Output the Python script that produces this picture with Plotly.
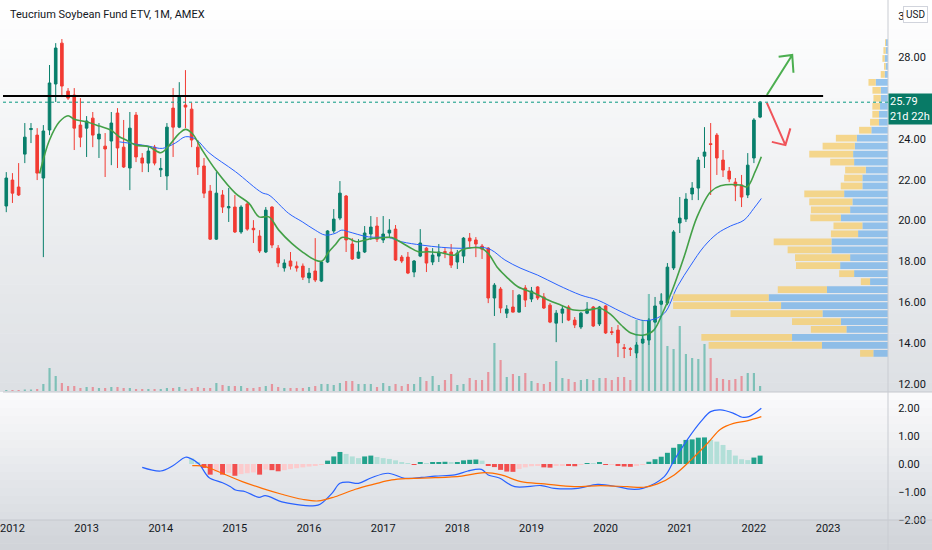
import plotly.graph_objects as go

# Monthly candles, index 0 = Dec 2011 ... 122 = Feb 2022
opens = [20.71, 21.98, 21.64, 23.25, 24.45, 24.18, 22.08, 24.43, 26.68, 28.68,
         26.33, 26.14, 24.67, 24.52, 25.01, 23.99, 23.64, 23.89, 25.26, 23.59,
         22.57, 25.16, 23.06, 22.81, 23.59, 22.48, 22.18, 25.50, 24.57, 25.65,
         25.45, 23.59, 22.67, 21.44, 19.09, 21.25, 20.62, 20.66, 19.44, 20.81,
         19.62, 19.24, 18.46, 20.66, 18.65, 17.68, 18.02, 17.77, 17.77, 17.19,
         17.53, 17.04, 17.97, 19.49, 20.12, 21.20, 18.85, 18.16, 18.46, 19.34,
         19.73, 19.05, 19.39, 19.58, 18.21, 18.21, 17.48, 18.26, 18.65, 17.97,
         18.26, 18.48, 18.46, 17.97, 18.26, 19.14, 19.05, 18.75, 18.65, 16.21,
         16.65, 15.47, 15.77, 15.52, 16.70, 16.16, 16.75, 16.26, 15.86, 14.98,
         15.47, 15.77, 15.13, 14.79, 15.47, 15.77, 14.94, 15.82, 14.56, 14.64,
         13.78, 13.73, 13.52, 14.01, 14.15, 15.03, 15.91, 15.96, 17.68, 19.88,
         20.07, 21.30, 21.59, 23.15, 23.76, 24.18, 22.96, 22.42, 21.88, 21.74,
         21.25, 23.06, 25.06]
highs = [22.37, 22.32, 22.81, 24.77, 24.77, 24.52, 24.67, 27.61, 28.68, 28.88,
         26.48, 26.48, 25.99, 25.11, 25.31, 24.77, 24.28, 25.31, 25.50, 24.92,
         25.31, 25.31, 23.30, 23.59, 23.70, 23.06, 24.77, 26.48, 26.77, 27.36,
         25.76, 23.94, 23.06, 21.74, 22.37, 21.49, 21.59, 21.25, 20.75, 20.90,
         20.02, 19.53, 20.66, 20.70, 18.80, 18.10, 18.46, 18.00, 17.90, 17.68,
         19.14, 18.00, 19.53, 20.56, 21.93, 21.25, 19.14, 19.09, 19.73, 20.22,
         20.17, 20.22, 20.07, 19.78, 18.31, 18.46, 18.07, 19.58, 18.70, 18.65,
         18.85, 18.65, 18.85, 18.56, 19.19, 19.39, 19.19, 18.85, 18.70, 16.94,
         16.75, 15.86, 16.60, 16.40, 16.84, 16.75, 16.79, 16.45, 15.96, 15.62,
         15.86, 15.86, 15.28, 15.52, 16.01, 15.82, 15.82, 15.86, 14.79, 14.89,
         13.96, 13.81, 14.05, 14.40, 15.23, 16.26, 16.45, 17.92, 19.53, 21.15,
         21.34, 21.88, 23.11, 24.57, 24.77, 24.28, 23.45, 22.62, 22.08, 22.23,
         23.30, 25.01, 25.85]
lows = [20.41, 20.86, 21.20, 22.81, 23.79, 21.98, 18.21, 24.18, 25.80, 26.04,
        25.90, 23.45, 23.59, 23.11, 23.59, 23.06, 22.13, 22.71, 22.57, 22.57,
        21.49, 22.86, 22.37, 22.37, 22.70, 22.13, 21.49, 23.11, 24.52, 24.52,
        23.59, 22.23, 21.10, 19.05, 19.05, 20.37, 19.93, 19.39, 19.35, 19.50,
        18.90, 18.41, 18.41, 18.65, 17.72, 17.50, 17.60, 17.50, 17.09, 16.94,
        16.99, 16.99, 17.92, 19.39, 20.02, 18.46, 18.07, 18.12, 18.41, 19.05,
        18.95, 18.90, 19.19, 18.02, 17.92, 17.38, 17.23, 18.21, 17.48, 17.82,
        17.97, 18.16, 17.68, 17.63, 17.92, 18.65, 18.21, 18.12, 15.96, 15.33,
        15.47, 15.23, 15.50, 15.50, 15.77, 16.01, 16.11, 15.67, 14.98, 14.05,
        14.98, 15.08, 14.74, 14.69, 15.42, 14.79, 14.84, 14.45, 14.40, 13.32,
        13.27, 13.37, 13.27, 13.96, 13.91, 14.98, 15.86, 15.86, 17.58, 19.39,
        19.93, 21.00, 21.00, 22.57, 21.25, 22.23, 22.13, 21.88, 20.95, 20.66,
        21.10, 22.81, 25.01]
closes = [22.08, 21.34, 21.25, 24.08, 24.50, 22.32, 24.38, 26.73, 28.44, 26.58,
          25.99, 24.52, 24.08, 24.87, 24.18, 24.23, 23.50, 24.77, 23.55, 22.62,
          24.52, 23.11, 22.81, 23.40, 22.81, 22.55, 24.57, 24.57, 26.09, 25.55,
          23.94, 22.62, 21.34, 19.09, 21.34, 20.66, 20.68, 19.44, 20.66, 19.58,
          19.55, 18.51, 20.51, 18.80, 17.92, 17.92, 17.77, 17.68, 17.23, 17.43,
          17.09, 17.97, 19.49, 20.07, 21.34, 19.05, 18.12, 18.46, 19.39, 19.68,
          19.09, 19.34, 19.53, 18.07, 18.02, 17.43, 18.02, 18.90, 17.92, 18.31,
          18.46, 18.44, 17.82, 18.41, 19.14, 19.00, 18.85, 18.60, 16.21, 16.84,
          15.72, 15.67, 15.52, 16.35, 16.11, 16.55, 16.21, 15.72, 15.03, 15.47,
          15.67, 15.13, 14.89, 15.47, 15.67, 14.84, 15.77, 14.50, 14.52, 14.01,
          13.74, 13.70, 13.91, 14.20, 15.13, 15.82, 16.06, 17.72, 19.44, 20.12,
          21.05, 21.59, 22.96, 23.35, 23.72, 23.06, 22.47, 22.03, 21.69, 21.15,
          22.71, 24.92, 25.79]
volume_k = [10, 10, 10, 15, 15, 20, 70, 230, 150, 80,
            50, 50, 30, 40, 40, 30, 30, 40, 40, 30,
            30, 20, 20, 20, 20, 20, 30, 30, 40, 20,
            30, 40, 30, 30, 80, 60, 50, 50, 50, 30,
            30, 40, 50, 70, 40, 30, 30, 30, 30, 40,
            50, 70, 70, 60, 80, 100, 100, 70, 70, 70,
            40, 80, 50, 70, 50, 70, 70, 140, 100, 150,
            60, 110, 170, 60, 70, 130, 110, 110, 190, 480,
            310, 140, 170, 150, 180, 100, 80, 70, 90, 300,
            130, 120, 90, 110, 120, 110, 130, 130, 110, 140,
            140, 110, 710, 710, 970, 710, 970, 450, 420, 650,
            370, 330, 320, 470, 330, 130, 120, 110, 120, 150,
            180, 180, 50]
year_ticks = [1, 13, 25, 37, 49, 61, 73, 85, 97, 109, 121, 133]
year_labels = ["2012", "2013", "2014", "2015", "2016", "2017",
               "2018", "2019", "2020", "2021", "2022", "2023"]

# moving averages (month index, price)
ema_fast_x = [5.4, 7.0, 8.6, 10.0, 11.0, 12.9, 15.1, 16.9, 18.3, 19.4,
              21.0, 23.1, 25.0, 26.4, 28.0, 29.0, 30.1, 31.7, 33.9, 37.1,
              39.3, 40.9, 42.5, 44.1, 46.2, 47.9, 50.0, 51.1, 52.2, 53.2,
              54.3, 55.4, 56.7, 58.1, 59.2, 61.3, 62.4, 63.5, 65.1, 66.7,
              68.3, 70.4, 72.6, 73.7, 75.3, 76.9, 78.0, 79.6, 81.2, 82.8,
              85.5, 87.7, 89.8, 91.9, 94.1, 96.2, 97.9, 99.5, 101.1, 103.2,
              104.8, 106.2, 107.8, 109.7, 111.8, 114.0, 115.6, 118.8, 119.9, 121.2,
              122.2]
ema_fast_y = [22.3, 23.94, 24.83, 25.13, 24.95, 24.83, 24.62, 24.43, 24.1, 23.94,
              23.69, 23.61, 23.32, 23.69, 24.26, 24.46, 24.26, 23.45, 22.47, 21.33,
              20.84, 20.18, 20.18, 19.53, 18.88, 18.47, 18.07, 18.02, 18.47, 18.8,
              19.17, 19.12, 18.96, 19.05, 19.12, 19.17, 19.17, 19.0, 18.72, 18.47,
              18.47, 18.42, 18.31, 18.56, 18.67, 18.64, 18.39, 17.66, 17.17, 16.76,
              16.44, 16.11, 15.86, 15.62, 15.62, 15.70, 15.38, 14.89, 14.5, 14.4,
              14.64, 15.46, 16.6, 18.23, 20.18, 21.41, 21.7, 21.74, 21.65, 22.39,
              23.12]
ema_slow_x = [18.3, 21.0, 23.1, 25.3, 27.4, 29.0, 30.7, 32.8, 37.1, 41.4,
              42.5, 45.7, 47.9, 50.0, 51.6, 53.2, 54.3, 55.4, 58.6, 61.8,
              64.0, 67.2, 70.4, 73.7, 76.9, 78.5, 80.7, 83.3, 86.0, 89.3,
              93.0, 95.7, 99.5, 102.7, 104.3, 106.5, 108.6, 110.8, 112.9, 115.1,
              117.2, 119.4, 121.0, 122.2]
ema_slow_y = [23.85, 23.74, 23.64, 23.53, 23.8, 24.1, 23.97, 23.32, 22.39, 21.36,
              21.25, 20.35, 19.94, 19.53, 19.29, 19.37, 19.53, 19.45, 19.2, 19.17,
              18.96, 18.8, 18.69, 18.64, 18.69, 18.56, 18.07, 17.66, 17.33, 16.84,
              16.35, 16.11, 15.54, 15.13, 15.13, 15.46, 16.76, 17.82, 18.72, 19.37,
              19.73, 20.02, 20.6, 21.08]

# volume profile rows (price level, up / down volume in k)
profile_price = [13.50, 13.89, 14.28, 14.67, 15.06, 15.45, 15.84, 16.23, 16.62, 17.01,
                 17.40, 17.79, 18.18, 18.57, 18.96, 19.35, 19.74, 20.13, 20.52, 20.91,
                 21.30, 21.69, 22.08, 22.47, 22.86, 23.25, 23.64, 24.03, 24.42, 24.81,
                 25.20, 25.59, 25.98, 26.37, 26.76, 27.15, 27.54, 27.93, 28.32, 28.71]
profile_up_k = [14.7, 66.3, 96.3, 41.7, 47.3, 65.7, 107.3, 119.7, 61.3, 18,
                34, 48, 38, 56.7, 56.7, 30, 25.7, 47.3, 38, 35.7,
                44, 25.7, 25.7, 22.3, 34, 35, 33.3, 31.3, 16.7, 9,
                9, 8, 7.3, 7.3, 12.3, 3.3, 2.3, 3.3, 2.3, 2]
profile_down_k = [13.3, 113.7, 91, 35.7, 49, 92.3, 108.3, 96, 49.3, 9.3,
                  15, 44.3, 55.3, 44, 58, 27.3, 29, 30.7, 39.3, 43.3,
                  40, 21.7, 18.3, 20.7, 24, 44, 32.3, 21, 12.3, 9,
                  6.7, 7.7, 7.3, 8.3, 7.3, 4, 1.7, 2.3, 2.3, 1]

# MACD pane
macd_x = [22.0, 25.0, 26.9, 29.0, 29.8, 31.2, 32.8, 35.0, 36.3, 37.1,
          38.7, 40.9, 41.9, 44.6, 46.8, 50.0, 50.8, 52.7, 54.0, 55.4,
          57.0, 59.1, 61.8, 64.5, 67.2, 69.4, 72.6, 74.7, 76.9, 78.0,
          79.8, 82.3, 86.6, 88.7, 92.5, 95.7, 98.9, 101.1, 103.0, 106.5,
          108.1, 110.2, 112.4, 114.0, 115.6, 117.7, 119.1, 120.2, 122.2]
macd_y = [-0.12, -0.25, -0.07, 0.24, 0.20, 0.0, -0.48, -0.67, -0.81, -0.93,
          -0.99, -1.19, -1.13, -1.35, -1.44, -1.49, -1.44, -1.05, -0.69, -0.65,
          -0.69, -0.49, -0.33, -0.51, -0.48, -0.43, -0.39, -0.25, -0.19, -0.39,
          -0.5, -0.81, -0.77, -0.87, -0.87, -0.73, -0.81, -0.90, -0.87, -0.45,
          0.14, 0.86, 1.51, 1.87, 1.93, 1.81, 1.67, 1.69, 1.99]
signal_x = [30.1, 31.7, 33.3, 36.0, 38.2, 41.4, 44.6, 47.9, 50.5, 53.2,
            56.5, 59.7, 62.4, 65.1, 69.4, 73.7, 77.4, 80.1, 83.3, 87.1,
            91.9, 96.2, 100.5, 103.2, 105.4, 108.1, 110.8, 113.5, 115.6, 117.7,
            119.9, 122.2]
signal_y = [-0.06, -0.07, -0.18, -0.43, -0.63, -0.87, -1.08, -1.26, -1.32, -1.17,
            -0.90, -0.71, -0.57, -0.52, -0.49, -0.43, -0.31, -0.39, -0.63, -0.71,
            -0.81, -0.77, -0.81, -0.83, -0.71, -0.39, 0.14, 0.74, 1.24, 1.45,
            1.54, 1.69]
hist_start = 30
hist = [0.20, 0.06, -0.14, -0.38, -0.28, -0.38, -0.32, -0.42, -0.36, -0.33,
        -0.30, -0.38, -0.20, -0.22, -0.26, -0.22, -0.18, -0.15, -0.12, -0.09,
        -0.06, -0.03, 0.12, 0.27, 0.43, 0.36, 0.27, 0.21, 0.27, 0.30,
        0.25, 0.21, 0.18, 0.13, 0.07, 0.02, -0.03, 0.06, 0.03, 0.06,
        0.07, 0.08, 0.05, 0.07, 0.13, 0.15, 0.16, 0.12, -0.06, -0.11,
        -0.21, -0.27, -0.28, -0.18, -0.12, -0.08, -0.05, -0.12, -0.13, -0.07,
        -0.04, -0.07, -0.08, -0.03, 0.02, 0.01, 0.06, -0.02, -0.01, -0.07,
        -0.09, -0.10, -0.04, -0.02, 0.08, 0.17, 0.26, 0.40, 0.58, 0.71,
        0.86, 0.88, 0.94, 0.95, 0.86, 0.80, 0.68, 0.50, 0.30, 0.17,
        0.14, 0.23, 0.30]

# drawings
resistance = 26.09
last_price = 25.79
arrow_up_x = [123.1, 127.2, 125.0, 127.2, 127.4]
arrow_up_y = [26.14, 28.10, 28.01, 28.10, 27.23]
arrow_dn_x = [123.1, 126.1, 123.9, 126.1, 126.9]
arrow_dn_y = [25.76, 23.69, 23.85, 23.69, 24.51]

TITLE = "Teucrium Soybean Fund ETV, 1M, AMEX"
UP = "#087f6b"
DOWN = "#f23b33"
FONT = "Roboto, sans-serif"
TXT = "#131722"

n = len(opens)
idx = list(range(n))

fig = go.Figure()

# volume profile (right side)
fig.add_trace(go.Bar(y=profile_price, x=profile_up_k, base=0, orientation="h",
                     width=0.33, marker=dict(color="rgba(110,175,232,0.72)", line_width=0),
                     xaxis="x3", yaxis="y", hoverinfo="skip"))
fig.add_trace(go.Bar(y=profile_price, x=profile_down_k, base=profile_up_k, orientation="h",
                     width=0.33, marker=dict(color="rgba(245,205,110,0.78)", line_width=0),
                     xaxis="x3", yaxis="y", hoverinfo="skip"))

# volume bars
vol_colors = ["rgba(8,153,129,0.45)" if c >= o else "rgba(242,54,69,0.45)"
              for o, c in zip(opens, closes)]
fig.add_trace(go.Bar(x=idx, y=volume_k, width=0.35, marker=dict(color=vol_colors, line_width=0),
                     xaxis="x", yaxis="y2", hoverinfo="skip"))

fig.add_trace(go.Scatter(x=ema_slow_x, y=ema_slow_y, mode="lines",
                         line=dict(color="#2962ff", width=1, shape="spline"),
                         xaxis="x", yaxis="y"))
fig.add_trace(go.Scatter(x=ema_fast_x, y=ema_fast_y, mode="lines",
                         line=dict(color="#43a047", width=1.6, shape="spline"),
                         xaxis="x", yaxis="y"))

fig.add_trace(go.Candlestick(x=idx, open=opens, high=highs, low=lows, close=closes,
                             increasing=dict(line=dict(color=UP, width=1), fillcolor=UP),
                             decreasing=dict(line=dict(color=DOWN, width=1), fillcolor=DOWN),
                             xaxis="x", yaxis="y", hoverinfo="skip"))

fig.add_trace(go.Scatter(x=arrow_up_x, y=arrow_up_y, mode="lines",
                         line=dict(color="#4caf50", width=2), xaxis="x", yaxis="y"))
fig.add_trace(go.Scatter(x=arrow_dn_x, y=arrow_dn_y, mode="lines",
                         line=dict(color="#f0545a", width=2), xaxis="x", yaxis="y"))

# MACD
hist_x = list(range(hist_start, hist_start + len(hist)))
hist_colors = []
prev = None
for v in hist:
    if v >= 0:
        hist_colors.append("#22a28c" if prev is not None and v >= prev else "#b2dfd8")
    else:
        hist_colors.append("#f24e4e" if prev is not None and v < prev else "#fccbcd")
    prev = v
fig.add_trace(go.Bar(x=hist_x, y=hist, width=0.8, marker=dict(color=hist_colors, line_width=0),
                     xaxis="x2", yaxis="y3", hoverinfo="skip"))
fig.add_trace(go.Scatter(x=macd_x, y=macd_y, mode="lines",
                         line=dict(color="#2962ff", width=1.2, shape="spline"),
                         xaxis="x2", yaxis="y3"))
fig.add_trace(go.Scatter(x=signal_x, y=signal_y, mode="lines",
                         line=dict(color="#ff6d00", width=1.2, shape="spline"),
                         xaxis="x2", yaxis="y3"))


def px2paper(py):
    return (520 - py) / 520


def mix(c1, c2, t):
    a = [int(c1[i:i + 2], 16) for i in (1, 3, 5)]
    b = [int(c2[i:i + 2], 16) for i in (1, 3, 5)]
    return "rgb(%d,%d,%d)" % tuple(round(a[k] + (b[k] - a[k]) * t) for k in range(3))


# soft vertical gradient behind each pane
shapes = []
for top, bot, c1, c2, steps in [(0, 392, "#ffffff", "#dde0e4", 40),
                                (392, 520, "#fbfbfc", "#dadde2", 16),
                                (520, 551, "#d6d9de", "#d0d3d8", 4)]:
    h = (bot - top) / steps
    for k in range(steps):
        shapes.append(dict(type="rect", xref="paper", yref="paper", layer="below",
                           x0=-0.01, x1=1.06, y0=px2paper(top + (k + 1) * h + 0.5),
                           y1=px2paper(top + k * h), line_width=0,
                           fillcolor=mix(c1, c2, (k + 0.5) / steps)))

shapes += [
    dict(type="line", xref="paper", yref="paper", x0=0, x1=1.06, y0=px2paper(392), y1=px2paper(392),
         line=dict(color="#c5c8ce", width=1)),
    dict(type="line", xref="paper", yref="paper", x0=-0.01, x1=1.06, y0=0, y1=0,
         line=dict(color="#c5c8ce", width=1)),
    dict(type="line", xref="paper", yref="paper", x0=1, x1=1, y0=-0.06, y1=1,
         line=dict(color="#c9ccd2", width=1)),
    dict(type="line", xref="x", yref="y", x0=-1, x1=132.2, y0=resistance, y1=resistance,
         line=dict(color="#000000", width=2)),
    dict(type="line", xref="paper", yref="y", x0=0, x1=1, y0=last_price, y1=last_price,
         line=dict(color="#089981", width=1, dash="dot")),
]

fig.update_layout(
    width=932, height=550,
    margin=dict(l=0, r=44, t=0, b=30),
    paper_bgcolor="#ffffff", plot_bgcolor="rgba(0,0,0,0)",
    showlegend=False, barmode="overlay", boxgap=0.4,
    font=dict(family=FONT, size=11, color=TXT),
    shapes=shapes,
    xaxis=dict(domain=[0, 1], anchor="y", range=[-0.53, 142.7], showticklabels=False,
               showgrid=False, zeroline=False, rangeslider=dict(visible=False)),
    xaxis2=dict(domain=[0, 1], anchor="y3", matches="x", range=[-0.53, 142.7],
                tickmode="array", tickvals=year_ticks, ticktext=year_labels,
                ticklabeloverflow="allow", showgrid=False, zeroline=False, ticks="",
                tickfont=dict(size=11, color=TXT)),
    xaxis3=dict(overlaying="x", anchor="y", range=[888, 0], visible=False),
    yaxis=dict(domain=[px2paper(391), 1], anchor="x", side="right", range=[11.66, 30.79],
               tickmode="array", tickvals=[12, 14, 16, 18, 20, 22, 24, 28, 30],
               tickformat=".2f", showgrid=False, zeroline=False, ticklabeloverflow="allow",
               ticks="outside", ticklen=7, tickcolor="rgba(0,0,0,0)"),
    yaxis2=dict(overlaying="y", anchor="x", range=[0, 3910], visible=False),
    yaxis3=dict(domain=[0, px2paper(393)], anchor="x2", side="right", range=[-2.0, 2.536],
                tickmode="array", tickvals=[-2, -1, 0, 1, 2], tickformat=".2f",
                showgrid=False, zeroline=False, ticklabeloverflow="allow",
                ticks="outside", ticklen=7, tickcolor="rgba(0,0,0,0)"),
    annotations=[
        dict(text=TITLE, xref="paper", yref="paper",
             x=0.006, y=px2paper(14), xanchor="left", yanchor="middle", showarrow=False,
             font=dict(size=11, color=TXT)),
        dict(text="USD", xref="paper", yref="paper", x=916 / 888, y=px2paper(14),
             xanchor="center", yanchor="middle", showarrow=False, bgcolor="#ffffff",
             bordercolor="#d1d4dc", borderwidth=1, borderpad=2, font=dict(size=10, color=TXT)),
        dict(text="25.79<br>21d 22h", xref="paper", yref="y", x=1.0, y=last_price,
             xanchor="left", yanchor="top", yshift=9, showarrow=False, align="left",
             width=42, height=28, bgcolor="#087a66", font=dict(size=11, color="#ffffff")),
    ],
)

# drop the default 8px page margin so the figure sits at the window origin
fig.write_html("out.html", config={"displayModeBar": False},
               post_script="document.body.style.margin='0';document.body.style.overflow='hidden';")
